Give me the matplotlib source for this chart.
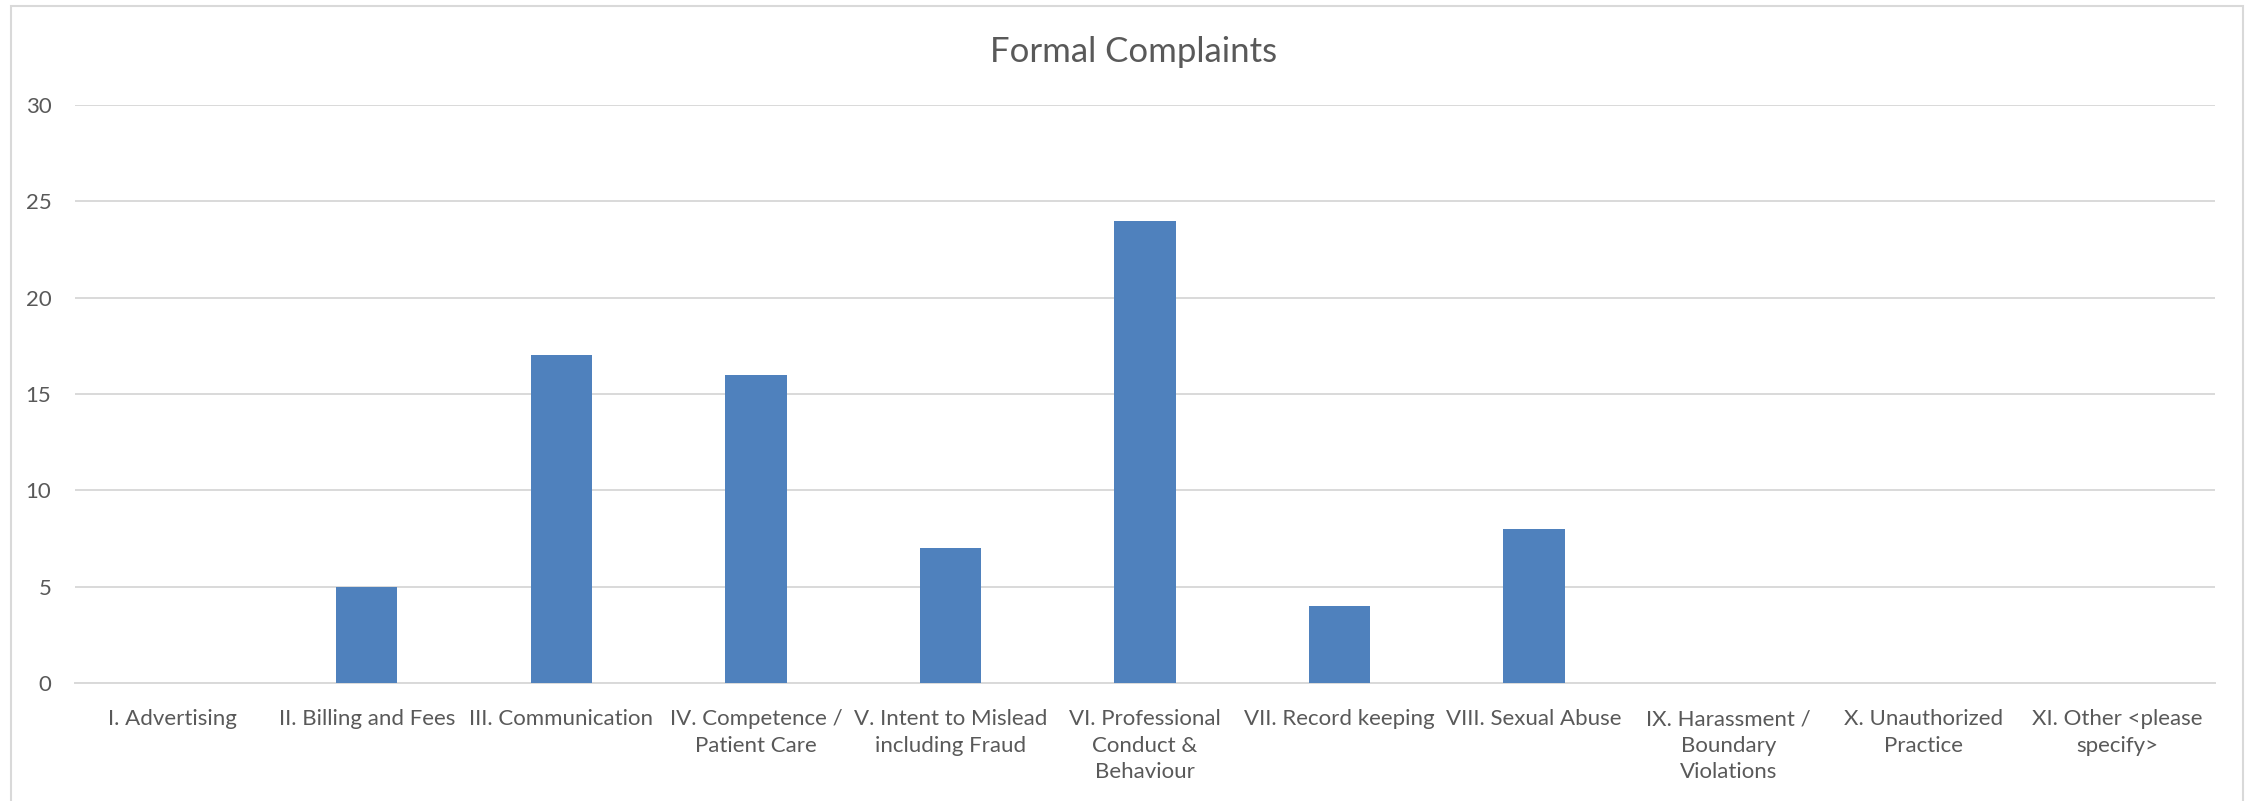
import matplotlib
matplotlib.use("Agg")
import matplotlib.pyplot as plt
from matplotlib.patches import Rectangle

# ----------------------------------------------------------------------
# Data
# ----------------------------------------------------------------------
categories = [
    "I. Advertising",
    "II. Billing and Fees",
    "III. Communication",
    "IV. Competence /\nPatient Care",
    "V. Intent to Mislead\nincluding Fraud",
    "VI. Professional\nConduct &\nBehaviour",
    "VII. Record keeping",
    "VIII. Sexual Abuse",
    "IX. Harassment /\nBoundary\nViolations",
    "X. Unauthorized\nPractice",
    "XI. Other <please\nspecify>",
]
complaints = [0, 5, 17, 16, 7, 24, 4, 8, 0, 0, 0]
yticks = [0, 5, 10, 15, 20, 25, 30]
title = "Formal Complaints"

# ----------------------------------------------------------------------
# Plot
# ----------------------------------------------------------------------
plt.rcParams["font.family"] = ["Lato", "DejaVu Sans"]
text_col = "#595959"
grid_col = "#D9D9D9"

W, H = 2260, 801
fig = plt.figure(figsize=(W / 100, H / 100), dpi=100)
ax = fig.add_axes([75 / W, 1 - 683 / H, (2215 - 75) / W, (683 - 105) / H])

x = list(range(len(categories)))
ax.bar(x, complaints, width=0.315, color="#4F81BD", zorder=3)

ax.set_xlim(-0.5, len(categories) - 0.5)
ax.set_ylim(0, 30)
ax.set_yticks(yticks)
ax.set_xticks(x)
ax.set_xticklabels(categories, linespacing=1.4)
ax.tick_params(axis="both", length=0, labelsize=16, colors=text_col)
ax.tick_params(axis="y", pad=17)
ax.tick_params(axis="x", pad=19)
ax.grid(axis="y", color=grid_col, linewidth=1.4, zorder=0)
for s in ["top", "right", "left"]:
    ax.spines[s].set_visible(False)
ax.spines["bottom"].set_color(grid_col)
ax.spines["bottom"].set_linewidth(1.4)

fig.text(1134 / W, 1 - 52 / H, title, ha="center", va="center",
         fontsize=25, color=text_col)

# chart border
fig.patches.append(Rectangle((11 / W, -0.02), (2243 - 11) / W, 1.02 - 6 / H,
                             transform=fig.transFigure, fill=False,
                             edgecolor=grid_col, linewidth=1.5))

fig.savefig("out.png", dpi=100, facecolor="white")
